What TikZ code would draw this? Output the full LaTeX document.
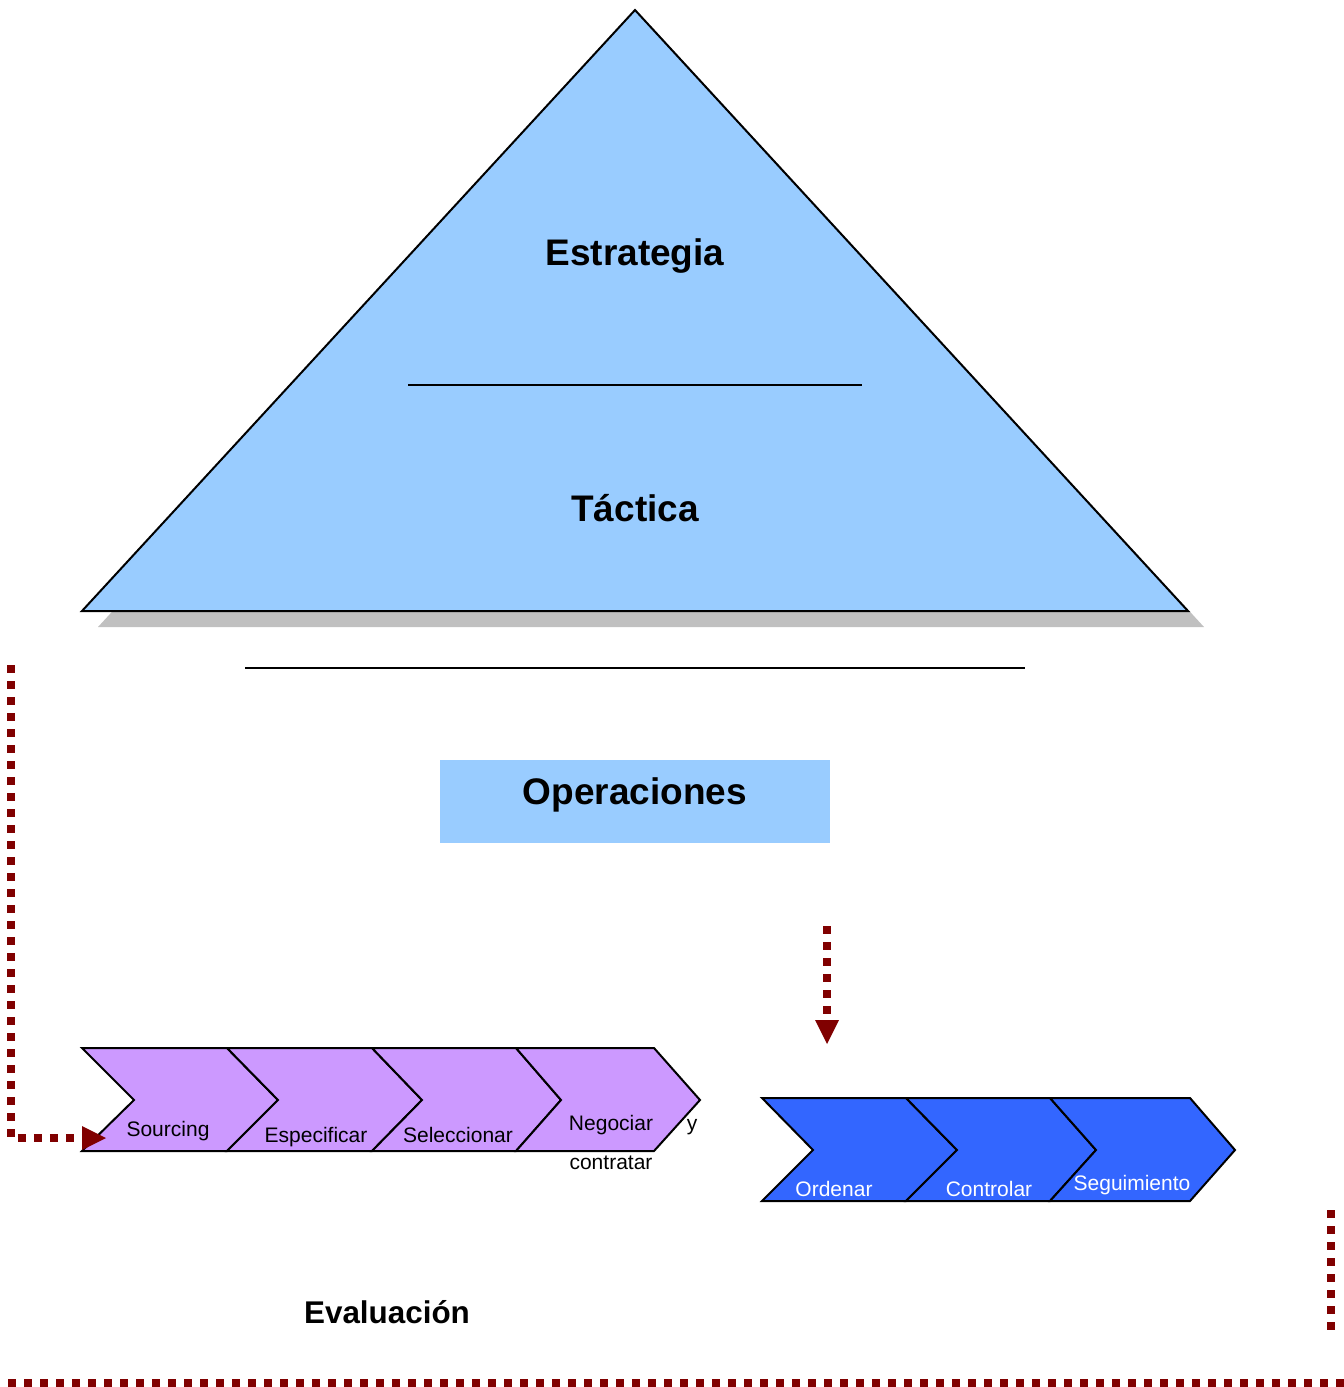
\documentclass[tikz,border=0pt]{standalone}
\usepackage{fontspec}
\setmainfont{Liberation Sans}
\definecolor{skyfill}{HTML}{99CCFF}
\definecolor{lilac}{HTML}{CC99FF}
\definecolor{royal}{HTML}{3366FF}
\definecolor{shadowgray}{HTML}{C0C0C0}
\definecolor{maroon}{HTML}{800000}
\tikzset{
  chevlilac/.style={draw=black, line width=1pt, fill=lilac, line join=miter},
  chevblue/.style={draw=black, line width=1pt, fill=royal, line join=miter},
  darklbl/.style={font=\fontsize{10.5}{12}\selectfont, text=black, inner sep=0pt},
  lightlbl/.style={font=\fontsize{10.5}{12}\selectfont, text=white, inner sep=0pt},
  biglbl/.style={font=\bfseries\fontsize{18.5}{22}\selectfont, inner sep=0pt},
  flowdots/.style={draw=maroon, line width=4pt, dash pattern=on 4pt off 4pt, line cap=butt},
  flowtip/.style={fill=maroon},
}
\begin{document}
\begin{tikzpicture}[x=0.5pt, y=-0.5pt]
\useasboundingbox (0,0) rectangle (1344,1387);

% pyramid with its drop shadow
\fill[shadowgray] (651,26) -- (1204,627) -- (98,627) -- cycle;
\draw[line width=1pt, fill=skyfill] (635,10) -- (1188,611) -- (82,611) -- cycle;
\draw[line width=1pt] (408,385) -- (862,385);
\node[biglbl] (estr) at (635,256) {Estrategia};
\node[biglbl] (tact) at (635,508) {Táctica};

% separator and operations box
\draw[line width=1pt] (245,668) -- (1025,668);
\fill[skyfill] (440,760) rectangle (830,843);
\node[biglbl] (oper) at (635,795) {Operaciones};

% sourcing chain
\draw[chevlilac] (82,1048) -- (227,1048) -- (278,1100) -- (227,1151) -- (82,1151) -- (134,1100) -- cycle;
\draw[chevlilac] (227,1048) -- (372,1048) -- (422,1100) -- (372,1151) -- (227,1151) -- (278,1100) -- cycle;
\draw[chevlilac] (372,1048) -- (516,1048) -- (561,1100) -- (516,1151) -- (372,1151) -- (422,1100) -- cycle;
\draw[chevlilac] (516,1048) -- (654,1048) -- (700,1100) -- (654,1151) -- (516,1151) -- (561,1100) -- cycle;
\node[darklbl] (sourc) at (168,1131) {Sourcing};
\node[darklbl] (espec) at (316,1137) {Especificar};
\node[darklbl] (selec) at (458,1135) {Seleccionar};
\node[darklbl] (negoc) at (611,1125) {Negociar};
\node[darklbl] (yconj) at (692,1127) {y};
\node[darklbl] (contr) at (611,1163) {contratar};

% purchasing chain
\draw[chevblue] (762,1098) -- (906,1098) -- (957,1150) -- (906,1201) -- (762,1201) -- (813,1150) -- cycle;
\draw[chevblue] (906,1098) -- (1050,1098) -- (1096,1150) -- (1050,1201) -- (906,1201) -- (957,1150) -- cycle;
\draw[chevblue] (1050,1098) -- (1190,1098) -- (1235,1150) -- (1190,1201) -- (1050,1201) -- (1096,1150) -- cycle;
\node[lightlbl] (orden) at (834,1189) {Ordenar};
\node[lightlbl] (contl) at (989,1189) {Controlar};
\node[lightlbl] (segui) at (1132,1185) {Seguimiento};

\node[font=\bfseries\fontsize{15.7}{19}\selectfont, inner sep=0pt] (evalu) at (387,1312) {Evaluación};

% feedback loop into the sourcing chain
\coordinate (fbtop) at (11,665);
\coordinate (fbcorner) at (11,1138);
\coordinate (fbbase) at (82,1138);
\coordinate (fbend) at (106,1138);
\draw[flowdots] (fbtop) -- (fbcorner) -- (fbbase);
\fill[flowtip] (82,1126) -- (fbend) -- (82,1150) -- cycle;

% operations feeding the purchasing chain
\coordinate (opstart) at (827,926);
\coordinate (opbase) at (827,1020);
\coordinate (opend) at (827,1044);
\draw[flowdots] (opstart) -- (opbase);
\fill[flowtip] (815,1020) -- (opend) -- (839,1020) -- cycle;

% evaluation return path
\coordinate (rtop) at (1331,1210);
\coordinate (rbot) at (1331,1330);
\draw[flowdots] (rtop) -- (rbot);

\coordinate (bleft) at (0,1383);
\coordinate (bright) at (1344,1383);
\draw[flowdots, dash phase=4pt] (bleft) -- (bright);
\end{tikzpicture}
\end{document}
